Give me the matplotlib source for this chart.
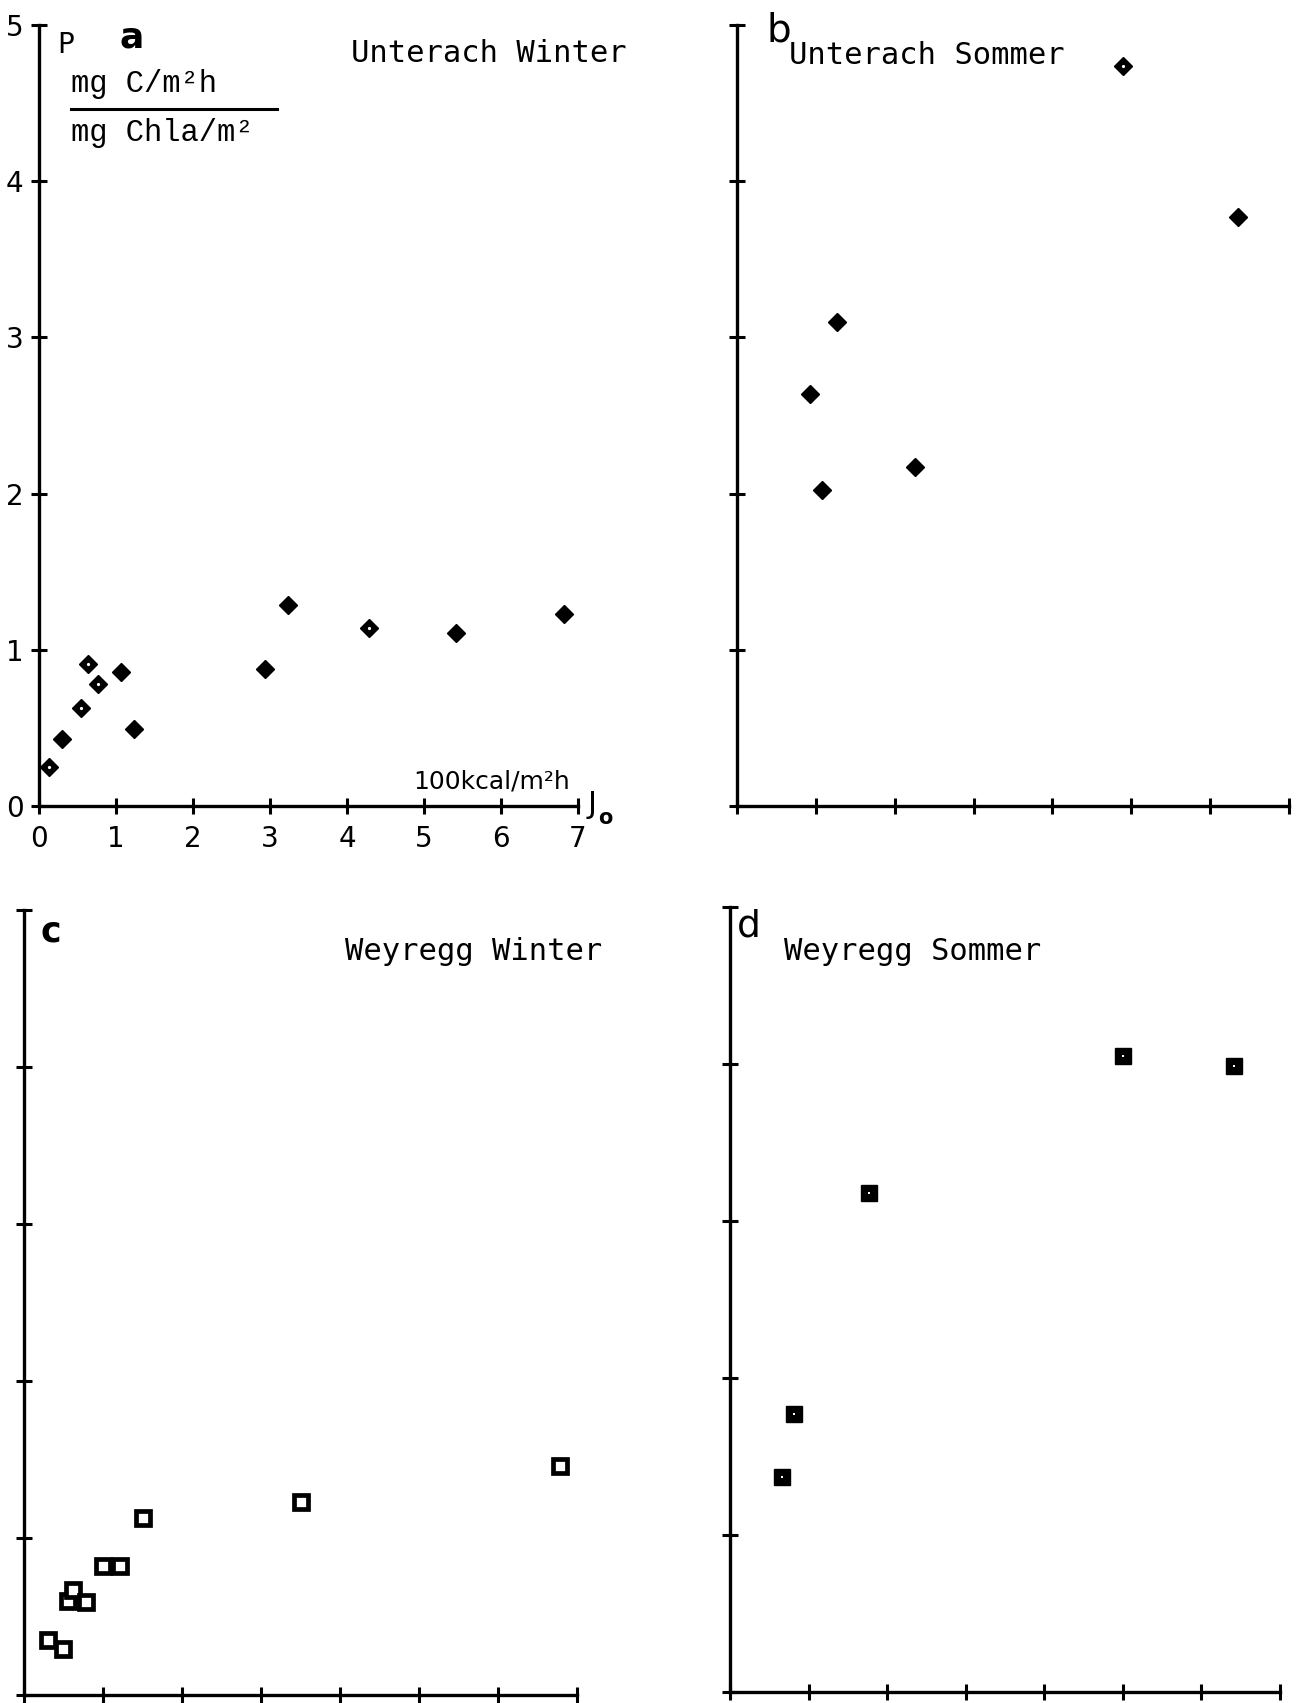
import matplotlib
matplotlib.use("Agg")
import matplotlib.pyplot as plt
from matplotlib.lines import Line2D

# --- values (x: J_o in 100 kcal/m2h, y: P in mg C/m2h per mg Chla/m2) ---
a_x = [0.13, 0.30, 0.55, 0.63, 0.76, 1.06, 1.23, 2.93, 3.23, 4.28, 5.41, 6.82]
a_y = [0.25, 0.43, 0.63, 0.91, 0.78, 0.86, 0.49, 0.88, 1.29, 1.14, 1.11, 1.23]
a_open = [1, 0, 1, 1, 1, 0, 0, 0, 0, 1, 0, 0]   # diamonds with a white centre

b_x = [4.90, 6.35, 1.27, 0.92, 1.08, 2.26]
b_y = [4.74, 3.77, 3.10, 2.64, 2.02, 2.17]
b_open = [1, 0, 0, 0, 0, 0]

c_x = [0.30, 0.49, 0.56, 0.62, 0.79, 1.00, 1.22, 1.50, 3.50, 6.78]
c_y = [0.35, 0.29, 0.60, 0.67, 0.59, 0.82, 0.82, 1.13, 1.23, 1.46]

d_x = [0.66, 0.82, 1.77, 5.00, 6.42]
d_y = [1.37, 1.77, 3.18, 4.05, 3.99]

x_ticks = [0, 1, 2, 3, 4, 5, 6, 7]
y_ticks = [0, 1, 2, 3, 4, 5]
x_ticklabels = ["0", "1", "2", "3", "4", "5", "6", "7"]
y_ticklabels = ["0", "1", "2", "3", "4", "5"]

titles = ["Unterach Winter", "Unterach Sommer", "Weyregg Winter", "Weyregg Sommer"]

W, H = 1301, 1703
fig = plt.figure(figsize=(W / 100, H / 100), dpi=100)
fig.patch.set_facecolor("white")


def box(x0, x1, y0, y1):
    # axes rectangle from pixel positions of the axis origin / ends
    return [x0 / W, 1 - y0 / H, (x1 - x0) / W, (y0 - y1) / H]


def setup(ax, labels=False):
    ax.set_xlim(0, 7)
    ax.set_ylim(0, 5)
    ax.patch.set_visible(False)
    for s in ("top", "right"):
        ax.spines[s].set_visible(False)
    for s in ("left", "bottom"):
        ax.spines[s].set_linewidth(2.4)
    ax.set_xticks(x_ticks)
    ax.set_yticks(y_ticks)
    ax.tick_params(direction="inout", length=12, width=2.2, color="black")
    if labels:
        ax.set_xticklabels(x_ticklabels, fontsize=20)
        ax.set_yticklabels(y_ticklabels, fontsize=20)
        ax.tick_params(axis="x", pad=8)
        ax.tick_params(axis="y", pad=5)
    else:
        ax.set_xticklabels([])
        ax.set_yticklabels([])


def ft(x, y, s, **kw):
    kw.setdefault("va", "center")
    fig.text(x / W, 1 - y / H, s, **kw)


ax_a = fig.add_axes(box(39, 578, 806, 25))
ax_b = fig.add_axes(box(737, 1289, 806, 25))
ax_c = fig.add_axes(box(24, 577, 1695, 910))
ax_d = fig.add_axes(box(730, 1280, 1692, 907))

setup(ax_a, labels=True)
setup(ax_b)
setup(ax_c)
setup(ax_d)

# diamonds (Unterach)
for ax, xs, ys, op in ((ax_a, a_x, a_y, a_open), (ax_b, b_x, b_y, b_open)):
    ax.plot(xs, ys, ls="none", marker="D", ms=9.5, color="black", clip_on=False)
    ox = [x for x, o in zip(xs, op) if o]
    oy = [y for y, o in zip(ys, op) if o]
    ax.plot(ox, oy, ls="none", marker="o", ms=2.3, color="white", mew=0, clip_on=False)

# squares (Weyregg)
ax_c.plot(c_x, c_y, ls="none", marker="s", ms=9.5, mfc="white", mec="black",
          mew=3.4, clip_on=False)
ax_d.plot(d_x, d_y, ls="none", marker="s", ms=11, color="black", clip_on=False)
ax_d.plot(d_x, d_y, ls="none", marker="s", ms=1.6, color="white", mew=0, clip_on=False)

mono = "DejaVu Sans Mono"
serif_mono = "Liberation Mono"

# panel a annotations
ft(66, 45, "P", fontsize=20, ha="center")
ft(132, 37, "a", fontsize=26, fontweight="bold", ha="center")
ft(351, 54, titles[0], fontsize=22, family=mono, ha="left")
ft(71, 84, "mg C/m²h", fontsize=22, family=serif_mono, ha="left")
fig.add_artist(Line2D([71 / W, 277 / W], [1 - 109 / H, 1 - 109 / H], color="black", lw=2.2))
ft(71, 133, "mg Chla/m²", fontsize=22, family=serif_mono, ha="left")
ft(413, 782, "100kcal/m²h", fontsize=18, ha="left")
ft(592, 804, "J", fontsize=22, ha="center")
ft(605, 818, "o", fontsize=15, fontweight="bold", ha="center")

# panel b
ft(779, 30, "b", fontsize=28, ha="center")
ft(789, 56, titles[1], fontsize=22, family=mono, ha="left")

# panel c
ft(51, 932, "c", fontsize=25, fontweight="bold", ha="center")
ft(345, 951, titles[2], fontsize=22, family=mono, ha="left")

# panel d
ft(749, 926, "d", fontsize=27, ha="center")
ft(784, 951, titles[3], fontsize=22, family=mono, ha="left")

fig.savefig("out.png", dpi=100, facecolor="white")
